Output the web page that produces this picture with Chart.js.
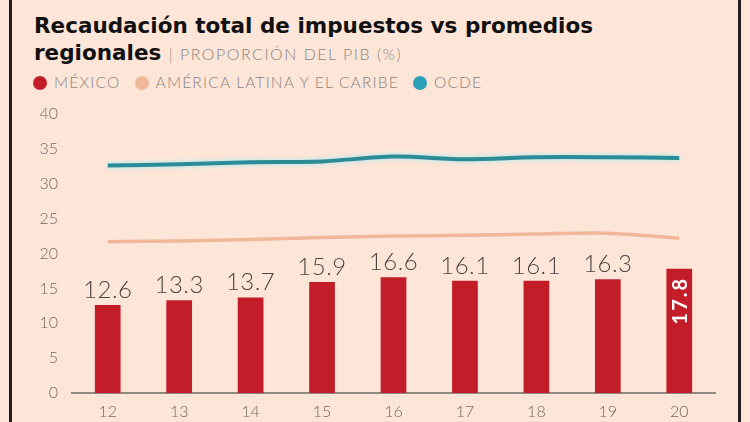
<!DOCTYPE html>
<html>
<head>
<meta charset="utf-8">
<script src="https://cdn.jsdelivr.net/npm/chart.js@4.4.1/dist/chart.umd.min.js"></script>
<style>
  html, body { margin: 0; padding: 0; }
  body { width: 750px; height: 422px; background: #fde6d8; position: relative; overflow: hidden; font-family: Lato, 'Open Sans', sans-serif; }
  .rule { position: absolute; top: 0; width: 3px; height: 422px; background: #231f1c; z-index: 9; }
  .title { position: absolute; left: 34px; top: 12px; font-family: 'DejaVu Sans', sans-serif; font-size: 21.5px; font-weight: bold; color: #111; line-height: 27px; letter-spacing: 0; }
  .title .sub { font-family: Lato, sans-serif; font-weight: 300; font-size: 16px; color: #8a8580; letter-spacing: 1.5px; }
  .legend { position: absolute; left: 33px; top: 73px; font-size: 15.5px; font-weight: 300; color: #8a8580; white-space: nowrap; letter-spacing: 1.2px; }
  .legend span.item { margin-right: 14px; }
  .legend i { display: inline-block; width: 14px; height: 14px; border-radius: 50%; vertical-align: -2px; margin-right: 7px; }
  #wrap { position: absolute; left: 0; top: 0; width: 750px; height: 422px; }
</style>
</head>
<body>
<div class="title">Recaudación total de impuestos vs promedios<br>regionales <span class="sub">| PROPORCIÓN DEL PIB (%)</span></div>
<div class="legend" id="legend"></div>
<div id="wrap"><canvas id="chart" width="750" height="422"></canvas></div>
<div class="rule" style="left:9px"></div>
<div class="rule" style="left:738px"></div>
<script>
// ─── Data ───
const years = ['12', '13', '14', '15', '16', '17', '18', '19', '20'];
const mexico = [12.6, 13.3, 13.7, 15.9, 16.6, 16.1, 16.1, 16.3, 17.8];
const latam = [21.7, 21.8, 22.0, 22.3, 22.5, 22.6, 22.8, 22.9, 22.2];
const ocde = [32.6, 32.8, 33.1, 33.2, 33.9, 33.5, 33.8, 33.8, 33.7];
const yTicks = [0, 5, 10, 15, 20, 25, 30, 35, 40];

const colors = { mexico: '#c41d2a', latam: '#f0b899', ocde: '#2b8b97', tick: '#6f6a66', axis: '#8d8a82' };
const seriesNames = ['MÉXICO', 'AMÉRICA LATINA Y EL CARIBE', 'OCDE'];

// legend (html, like the print layout)
document.getElementById('legend').innerHTML = [colors.mexico, colors.latam, '#2a9fb6']
  .map((c, i) => `<span class="item"><i style="background:${c}"></i>${seriesNames[i]}</span>`).join('');

// ─── Bar value labels ───
const barLabels = {
  id: 'barLabels',
  afterDatasetsDraw(chart) {
    const { ctx } = chart;
    const meta = chart.getDatasetMeta(2);
    meta.data.forEach((bar, i) => {
      const v = mexico[i].toFixed(1);
      ctx.save();
      if (i === mexico.length - 1) {
        ctx.translate(bar.x, bar.y + 8);
        ctx.rotate(-Math.PI / 2);
        ctx.font = 'bold 20px Lato, sans-serif';
        ctx.letterSpacing = '2px';
        ctx.fillStyle = '#fff';
        ctx.textAlign = 'right';
        ctx.textBaseline = 'middle';
        ctx.fillText(v, 0, 1);
      } else {
        ctx.font = '300 24px Lato, sans-serif';
        ctx.letterSpacing = '0.5px';
        ctx.fillStyle = '#4a4644';
        ctx.textAlign = 'center';
        ctx.textBaseline = 'alphabetic';
        ctx.fillText(v, bar.x, bar.y - 7);
      }
      ctx.restore();
    });
  }
};

// soft halo on the OCDE line
const lineGlow = {
  id: 'lineGlow',
  beforeDatasetDraw(chart, args) {
    if (args.index !== 0) return;
    chart.ctx.save();
    chart.ctx.shadowColor = 'rgba(150,235,245,.9)';
    chart.ctx.shadowBlur = 5;
  },
  afterDatasetDraw(chart, args) {
    if (args.index !== 0) return;
    chart.ctx.restore();
  }
};

new Chart(document.getElementById('chart'), {
  data: {
    labels: years,
    datasets: [
      { type: 'line', label: seriesNames[2], data: ocde, borderColor: colors.ocde, borderWidth: 4, pointRadius: 0, tension: 0.3, order: 0 },
      { type: 'line', label: seriesNames[1], data: latam, borderColor: colors.latam, borderWidth: 3.5, pointRadius: 0, tension: 0.3, order: 1 },
      { type: 'bar', label: seriesNames[0], data: mexico, backgroundColor: colors.mexico, barPercentage: 0.36, categoryPercentage: 1, order: 2 },
    ],
  },
  options: {
    responsive: false,
    animation: false,
    layout: { padding: { top: 114, right: 35, bottom: 0, left: 0 } },
    plugins: { legend: { display: false }, tooltip: { enabled: false } },
    scales: {
      x: {
        grid: { display: false, drawTicks: false },
        border: { display: true, color: colors.axis, width: 2 },
        ticks: { color: colors.tick, font: { family: 'Lato', weight: 300, size: 16 }, padding: 9 },
        afterFit: s => { s.height = 29; },
      },
      y: {
        min: 0, max: 40,
        grid: { display: false, drawTicks: false },
        border: { display: false },
        afterBuildTicks: s => { s.ticks = yTicks.map(v => ({ value: v })); },
        ticks: { color: colors.tick, font: { family: 'Lato', weight: 300, size: 16 }, padding: 14 },
        afterFit: s => { s.width = 72; },
      },
    },
  },
  plugins: [barLabels, lineGlow],
});
</script>
</body>
</html>
